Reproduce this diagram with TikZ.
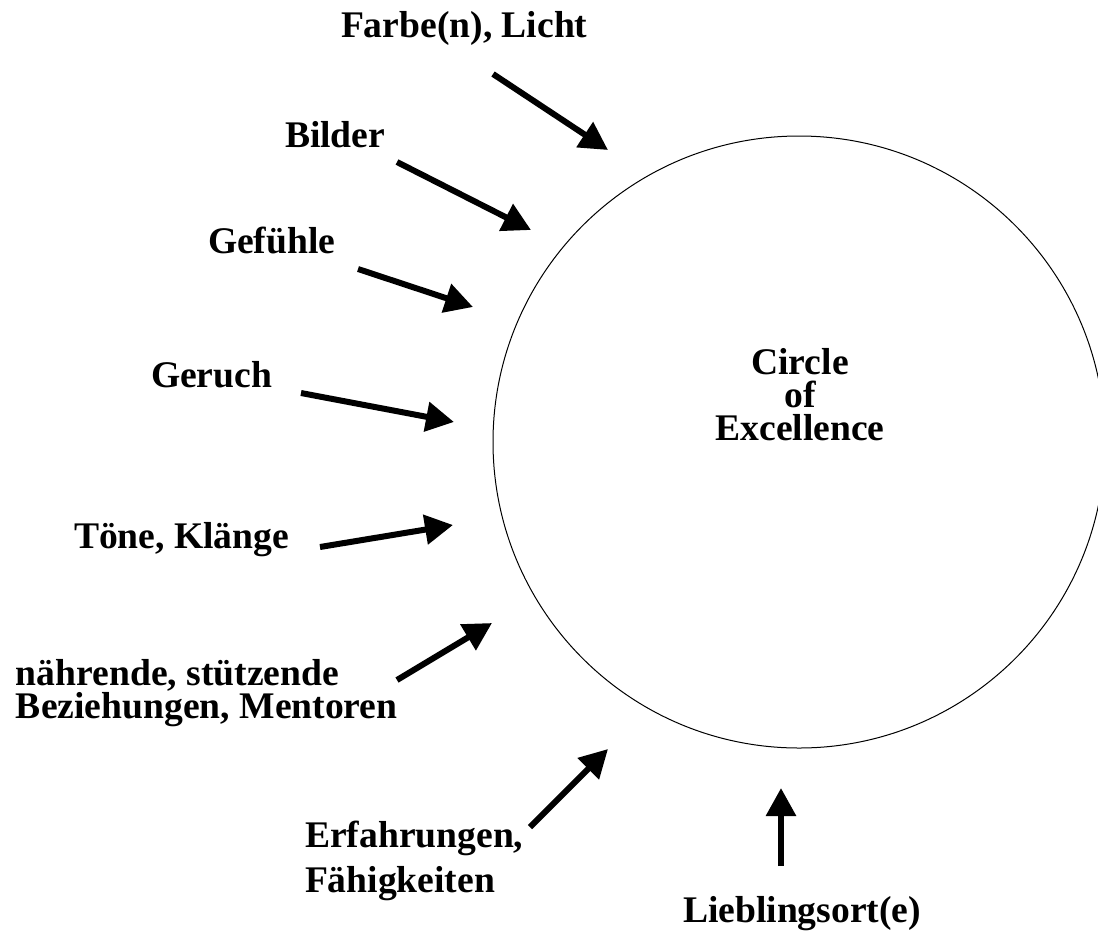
\documentclass[tikz,border=0pt]{standalone}
\usepackage{fontspec}
\setmainfont{Liberation Serif}
\usetikzlibrary{arrows.meta, positioning}

\begin{document}
\begin{tikzpicture}[x=0.5pt, y=-0.5pt, ->, >={Triangle[length=14pt,width=14.5pt]}, line width=3pt,
    sense/.style={inner sep=0pt, anchor=base west, align=left,
      font=\bfseries\fontsize{18.8}{16.5}\selectfont}]
  \useasboundingbox (0,0) rectangle (1098,933);

  %% circle of excellence
  \node[draw, circle, line width=0.5pt, minimum size=306pt, inner sep=0pt] (C) at (799,442) {};
  \node[sense, align=center, anchor=base] (coe) at (800,440) {Circle\\of\\Excellence};

  %% senses (base = last line)
  \node[sense] (farbe) at (338,37) {Farbe(n), Licht};
  \node[sense] (bilder) at (282,147) {Bilder};
  \node[sense] (gefuehle) at (205,253) {Gefühle};
  \node[sense] (geruch) at (148,387) {Geruch};
  \node[sense] (toene) at (71,548) {Töne, Klänge};
  \node[sense] (naehr) at (13,718) {nährende, stützende\\Beziehungen, Mentoren};
  \node[sense, font=\bfseries\fontsize{18.8}{22.5}\selectfont] (erfahr) at (302,892) {Erfahrungen,\\Fähigkeiten};
  \node[sense] (lieb) at (680,922) {Lieblingsort(e)};

  \coordinate (farbe0) at (493,74);   \coordinate (farbe1) at (608,150);
  \coordinate (bilder0) at (397,162); \coordinate (bilder1) at (531,230);
  \coordinate (gef0) at (358,269);    \coordinate (gef1) at (473,307);
  \coordinate (ger0) at (301,393);    \coordinate (ger1) at (454,422);
  \coordinate (toene0) at (320,547);  \coordinate (toene1) at (453,525);
  \coordinate (naehr0) at (397,680);  \coordinate (naehr1) at (492,623);
  \coordinate (erf0) at (530,827);    \coordinate (erf1) at (608,749);
  \coordinate (lieb0) at (781,866);   \coordinate (lieb1) at (781,788);

  \path
    (farbe0) edge (farbe1)
    (bilder0) edge (bilder1)
    (gef0) edge (gef1)
    (ger0) edge (ger1)
    (toene0) edge (toene1)
    (naehr0) edge (naehr1)
    (erf0) edge (erf1)
    (lieb0) edge (lieb1);
\end{tikzpicture}
\end{document}
